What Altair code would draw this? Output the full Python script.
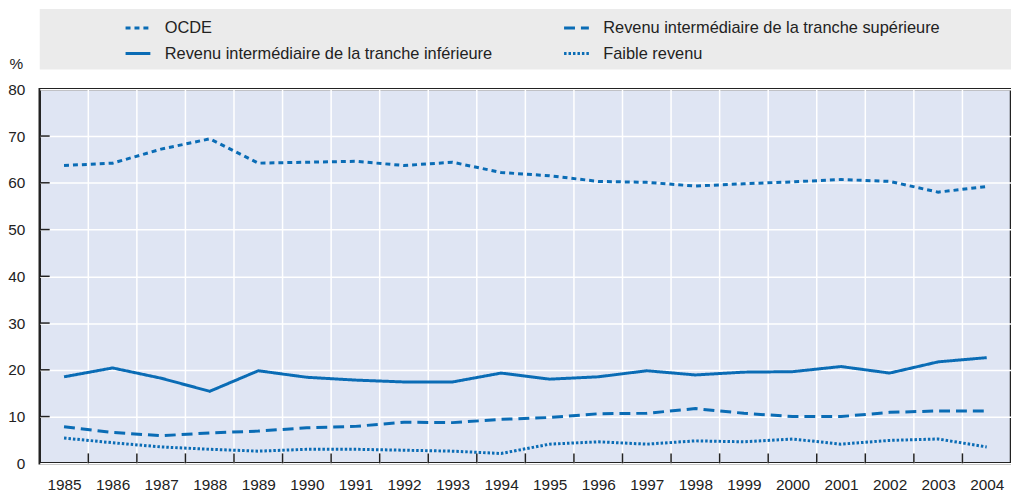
import altair as alt
import pandas as pd

years = list(range(1985, 2005))
ocde = [63.7, 64.2, 67.2, 69.4, 64.2, 64.4, 64.6, 63.7, 64.4, 62.2, 61.5, 60.3, 60.1, 59.3, 59.8, 60.2, 60.7, 60.3, 58.0, 59.2]
inferieure = [18.5, 20.4, 18.2, 15.4, 19.8, 18.4, 17.8, 17.4, 17.4, 19.3, 18.0, 18.5, 19.8, 18.9, 19.5, 19.6, 20.7, 19.3, 21.7, 22.6]
superieure = [7.8, 6.6, 5.9, 6.5, 6.9, 7.6, 7.9, 8.8, 8.7, 9.4, 9.8, 10.6, 10.7, 11.7, 10.7, 10.0, 10.0, 10.9, 11.2, 11.2]
faible = [5.4, 4.4, 3.5, 3.0, 2.6, 3.0, 3.0, 2.8, 2.6, 2.1, 4.1, 4.6, 4.1, 4.8, 4.6, 5.2, 4.1, 4.9, 5.2, 3.5]

series_names = [
    "OCDE",
    "Revenu intermédiaire de la tranche supérieure",
    "Revenu intermédiaire de la tranche inférieure",
    "Faible revenu",
]
series_values = [ocde, superieure, inferieure, faible]
dashes = [[5, 4], [11, 6], [1, 0], [2.5, 2]]
y_labels = [0, 10, 20, 30, 40, 50, 60, 70, 80]
y_ticks = [10, 20, 30, 40, 50, 60, 70]
boundaries = [y + 0.5 for y in range(1985, 2004)]

BLUE = "#0a6cb5"
FONT = "Liberation Sans"
TXT = "#222222"
W, H = 979, 377

rows = []
for name, vals in zip(series_names, series_values):
    for yr, v in zip(years, vals):
        rows.append({"annee": yr, "valeur": v, "serie": name})
df = pd.DataFrame(rows)

xscale = alt.Scale(domain=[1984.5, 2004.5], nice=False, zero=False)
yscale = alt.Scale(domain=[0, 80], nice=False)

x_axis = alt.Axis(
    values=years,
    format="d",
    title=None,
    grid=False,
    ticks=False,
    domain=False,
    labelFontSize=15.5,
    labelFont=FONT,
    labelColor=TXT,
    labelPadding=14,
    labelFlush=False,
    labelOverlap=False,
)
y_axis = alt.Axis(
    values=y_labels,
    title="%",
    titleAngle=0,
    titleX=-24,
    titleY=-26,
    titleAlign="center",
    titleBaseline="middle",
    titleFont=FONT,
    titleFontSize=15.5,
    titleFontWeight="normal",
    titleColor=TXT,
    grid=True,
    gridColor="white",
    gridWidth=1.5,
    ticks=False,
    domain=False,
    labelFontSize=15.5,
    labelFont=FONT,
    labelColor=TXT,
    labelPadding=15,
    labelFlush=False,
)

legend = alt.Legend(
    title=None,
    orient="none",
    legendX=85,
    legendY=-76,
    columns=2,
    direction="horizontal",
    columnPadding=65,
    rowPadding=3,
    symbolType="stroke",
    symbolSize=625,
    symbolStrokeWidth=3,
    labelFont=FONT,
    labelFontSize=16.5,
    labelColor=TXT,
    labelOffset=13,
    labelLimit=600,
    padding=0,
)

# grey legend band (decoration)
band = alt.Chart(pd.DataFrame({"a": [0]})).mark_rect(color="#ebebeb").encode(
    x=alt.value(0), x2=alt.value(W), y=alt.value(-81), y2=alt.value(-20)
)

grid_x = alt.Chart(pd.DataFrame({"b": boundaries})).mark_rule(color="white", strokeWidth=1.5).encode(
    x=alt.X("b:Q", scale=xscale, axis=x_axis),
    y=alt.value(0), y2=alt.value(H),
)

lines = alt.Chart(df).mark_line(strokeWidth=3).encode(
    x=alt.X("annee:Q", scale=xscale, axis=x_axis),
    y=alt.Y("valeur:Q", scale=yscale, axis=y_axis),
    color=alt.Color(
        "serie:N",
        scale=alt.Scale(domain=series_names, range=[BLUE] * 4),
        legend=legend,
    ),
    strokeDash=alt.StrokeDash(
        "serie:N",
        scale=alt.Scale(domain=series_names, range=dashes),
        legend=legend,
    ),
)

ticks_x = alt.Chart(pd.DataFrame({"b": boundaries})).mark_rule(color=TXT, strokeWidth=1.5).encode(
    x=alt.X("b:Q", scale=xscale, axis=x_axis),
    y=alt.value(H), y2=alt.value(H - 10),
)

ticks_y = alt.Chart(pd.DataFrame({"t": y_ticks})).mark_rule(color=TXT, strokeWidth=1.5).encode(
    y=alt.Y("t:Q", scale=yscale, axis=y_axis),
    x=alt.value(0), x2=alt.value(10),
)

chart = alt.layer(band, grid_x, lines, ticks_x, ticks_y).properties(
    width=W,
    height=H,
    autosize=alt.AutoSizeParams(type="none"),
    padding={"left": 32, "top": 80, "right": 0, "bottom": 30},
).configure_view(
    fill="#dfe5f3", stroke=TXT, strokeWidth=2.5
)

chart.save("out.html", embed_options={"renderer": "svg", "actions": False})
